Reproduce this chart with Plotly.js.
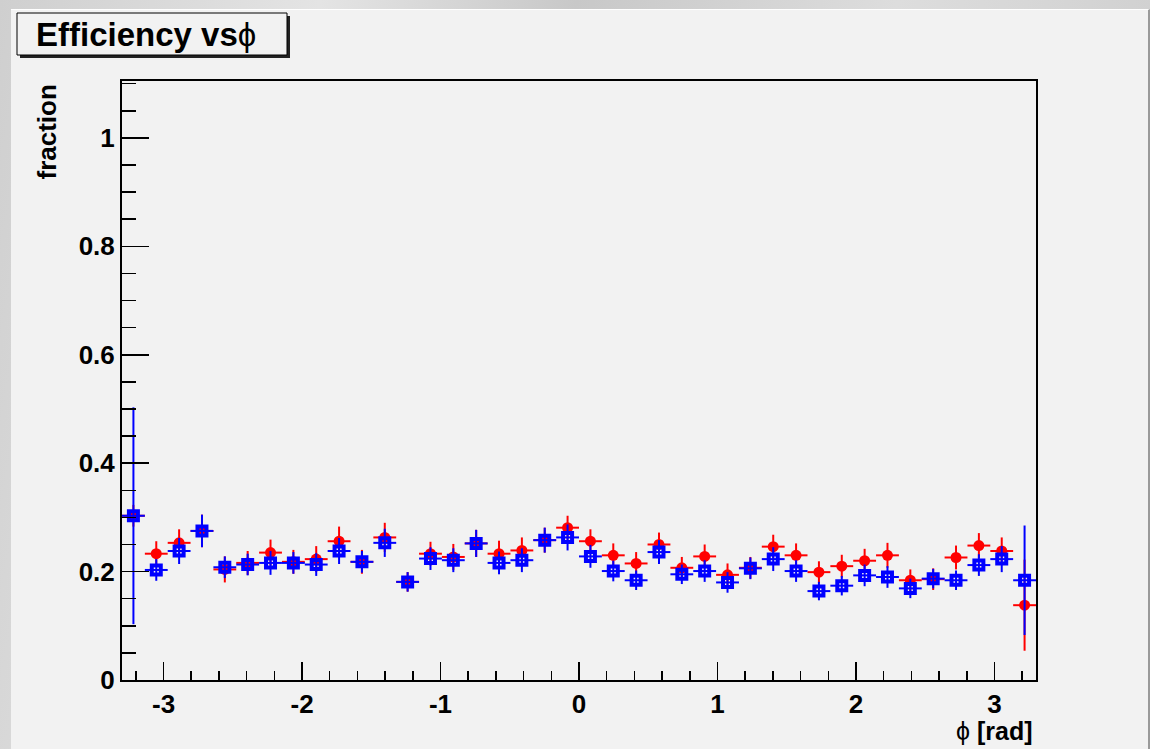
<!DOCTYPE html>
<html>
<head>
<meta charset="utf-8">
<script src="https://cdn.plot.ly/plotly-3.0.1.min.js"></script>
<style>
  html, body { margin: 0; padding: 0; width: 1150px; height: 749px; overflow: hidden; }
  body { background: linear-gradient(100deg, #cfcfcf 0%, #e4e4e4 25%, #c8c8c8 45%, #dddddd 70%, #cbcbcb 100%); }
  #panel { position: absolute; left: 11px; top: 9px; width: 1137px; height: 740px;
           background: #f2f2f2; border-top: 1px solid #ffffff; border-right: 2px solid #9a9a9a; }
  #chart { position: absolute; left: 0; top: 0; width: 1137px; height: 740px; }
</style>
</head>
<body>
<div id="panel"><div id="chart"></div></div>
<script>
// ---- data ----
const phiBinCenters = [-3.2175, -3.0525, -2.8875, -2.7225, -2.5575, -2.3925, -2.2275, -2.0625, -1.8975, -1.7325,
                       -1.5675, -1.4025, -1.2375, -1.0725, -0.9075, -0.7425, -0.5775, -0.4125, -0.2475, -0.0825,
                        0.0825,  0.2475,  0.4125,  0.5775,  0.7425,  0.9075,  1.0725,  1.2375,  1.4025,  1.5675,
                        1.7325,  1.8975,  2.0625,  2.2275,  2.3925,  2.5575,  2.7225,  2.8875,  3.0525,  3.2175];
const binHalfWidth = 0.0825;

const redEff = [0.303, 0.233, 0.253, 0.275, 0.204, 0.216, 0.235, 0.218, 0.223, 0.256,
                0.218, 0.263, 0.181, 0.233, 0.227, 0.252, 0.233, 0.239, 0.258, 0.281,
                0.256, 0.230, 0.215, 0.250, 0.207, 0.228, 0.194, 0.207, 0.246, 0.230,
                0.199, 0.210, 0.220, 0.230, 0.184, 0.186, 0.226, 0.248, 0.238, 0.138];
const redErr = [0.020, 0.023, 0.025, 0.030, 0.024, 0.022, 0.024, 0.022, 0.024, 0.027,
                0.022, 0.027, 0.018, 0.022, 0.024, 0.025, 0.024, 0.024, 0.023, 0.022,
                0.022, 0.022, 0.021, 0.022, 0.020, 0.022, 0.021, 0.020, 0.022, 0.022,
                0.020, 0.021, 0.022, 0.023, 0.020, 0.020, 0.022, 0.023, 0.025, 0.084];

const blueEff = [0.303, 0.203, 0.238, 0.275, 0.208, 0.213, 0.216, 0.216, 0.213, 0.238,
                 0.218, 0.253, 0.181, 0.224, 0.221, 0.252, 0.216, 0.221, 0.258, 0.263,
                 0.228, 0.201, 0.184, 0.236, 0.195, 0.201, 0.180, 0.206, 0.223, 0.201,
                 0.164, 0.174, 0.193, 0.190, 0.169, 0.187, 0.184, 0.212, 0.223, 0.184];
const blueErr = [0.200, 0.020, 0.024, 0.030, 0.020, 0.020, 0.022, 0.020, 0.021, 0.024,
                 0.020, 0.026, 0.018, 0.021, 0.022, 0.025, 0.021, 0.022, 0.023, 0.024,
                 0.021, 0.019, 0.018, 0.022, 0.018, 0.020, 0.019, 0.020, 0.022, 0.020,
                 0.017, 0.018, 0.020, 0.020, 0.018, 0.018, 0.018, 0.020, 0.024, 0.101];

const xTickVals = [-3, -2, -1, 0, 1, 2, 3];
const xTickText = ['-3', '-2', '-1', '0', '1', '2', '3'];

// ---- layout geometry (pixels inside the chart div) ----
const W = 1137, H = 740;
const M = { l: 111, r: 112, t: 71, b: 70 };
const pw = W - M.l - M.r, ph = H - M.t - M.b;
const px = v => (v - M.l) / pw;
const py = v => (H - M.b - v) / ph;

const FONT = 'Liberation Sans, Arial, Helvetica, sans-serif';
const PHI = '<span style="font-weight:normal">ϕ</span>';

const red = {
  type: 'scatter', mode: 'markers', name: 'red',
  x: phiBinCenters, y: redEff,
  marker: { symbol: 'circle', size: 11, color: '#ff0000' },
  error_y: { type: 'data', array: redErr, visible: true, color: '#ff0000', thickness: 2, width: 0 },
  error_x: { type: 'constant', value: binHalfWidth, visible: true, color: '#ff0000', thickness: 2, width: 0 },
  hoverinfo: 'x+y'
};
const blue = {
  type: 'scatter', mode: 'markers', name: 'blue',
  x: phiBinCenters, y: blueEff,
  marker: { symbol: 'square-open', size: 9, color: '#0000ff', line: { width: 4, color: '#0000ff' } },
  error_y: { type: 'data', array: blueErr, visible: true, color: '#0000ff', thickness: 2, width: 0 },
  error_x: { type: 'constant', value: binHalfWidth, visible: true, color: '#0000ff', thickness: 2, width: 0 },
  hoverinfo: 'x+y'
};

const layout = {
  width: W, height: H,
  margin: M,
  paper_bgcolor: '#f2f2f2',
  plot_bgcolor: '#f2f2f2',
  showlegend: false,
  font: { family: FONT, size: 26, color: '#000', weight: 'bold' },
  title: {
    text: 'Efficiency vs' + PHI,
    font: { family: FONT, size: 33, color: '#000', weight: 'bold' },
    xref: 'container', yref: 'container',
    x: 25 / W, xanchor: 'left',
    y: 1 - 24 / H, yanchor: 'middle'
  },
  xaxis: {
    range: [-3.3, 3.3],
    showgrid: false, zeroline: false,
    showline: true, linecolor: '#000', linewidth: 2, mirror: true,
    ticks: 'inside', ticklen: 18, tickwidth: 1.5, tickcolor: '#000',
    tickvals: xTickVals, ticktext: xTickText,
    tickfont: { family: FONT, size: 26, color: '#000', weight: 'bold' },
    minor: { dtick: 0.2, tick0: 0, ticks: 'inside', ticklen: 9, tickwidth: 1.5, tickcolor: '#000', showgrid: false },
    title: { text: '' }
  },
  yaxis: {
    range: [0, 1.105],
    showgrid: false, zeroline: false,
    showline: true, linecolor: '#000', linewidth: 2, mirror: true,
    ticks: 'inside', ticklen: 27, tickwidth: 1.5, tickcolor: '#000',
    dtick: 0.2, tick0: 0,
    tickfont: { family: FONT, size: 26, color: '#000', weight: 'bold' },
    minor: { dtick: 0.05, tick0: 0, ticks: 'inside', ticklen: 14, tickwidth: 1.5, tickcolor: '#000', showgrid: false },
    title: { text: '' }
  },
  shapes: [
    // title box shadow
    { type: 'rect', xref: 'paper', yref: 'paper', layer: 'below',
      x0: px(9), x1: px(279), y0: py(48), y1: py(6),
      fillcolor: '#222', line: { width: 0 } },
    // title box
    { type: 'rect', xref: 'paper', yref: 'paper', layer: 'below',
      x0: px(6), x1: px(276), y0: py(45), y1: py(3),
      fillcolor: '#f2f2f2', line: { width: 1, color: '#000' } }
  ],
  annotations: [
    { text: 'fraction', textangle: -90, xref: 'paper', yref: 'paper',
      x: px(36), y: py(73), xanchor: 'center', yanchor: 'top', showarrow: false,
      font: { family: FONT, size: 26, color: '#000', weight: 'bold' } },
    { text: PHI + ' [rad]', xref: 'paper', yref: 'paper',
      x: px(1024), y: py(721), xanchor: 'right', yanchor: 'middle', showarrow: false,
      font: { family: FONT, size: 25, color: '#000', weight: 'bold' } }
  ]
};

Plotly.newPlot('chart', [red, blue], layout, { displayModeBar: false, staticPlot: true });
</script>
</body>
</html>
